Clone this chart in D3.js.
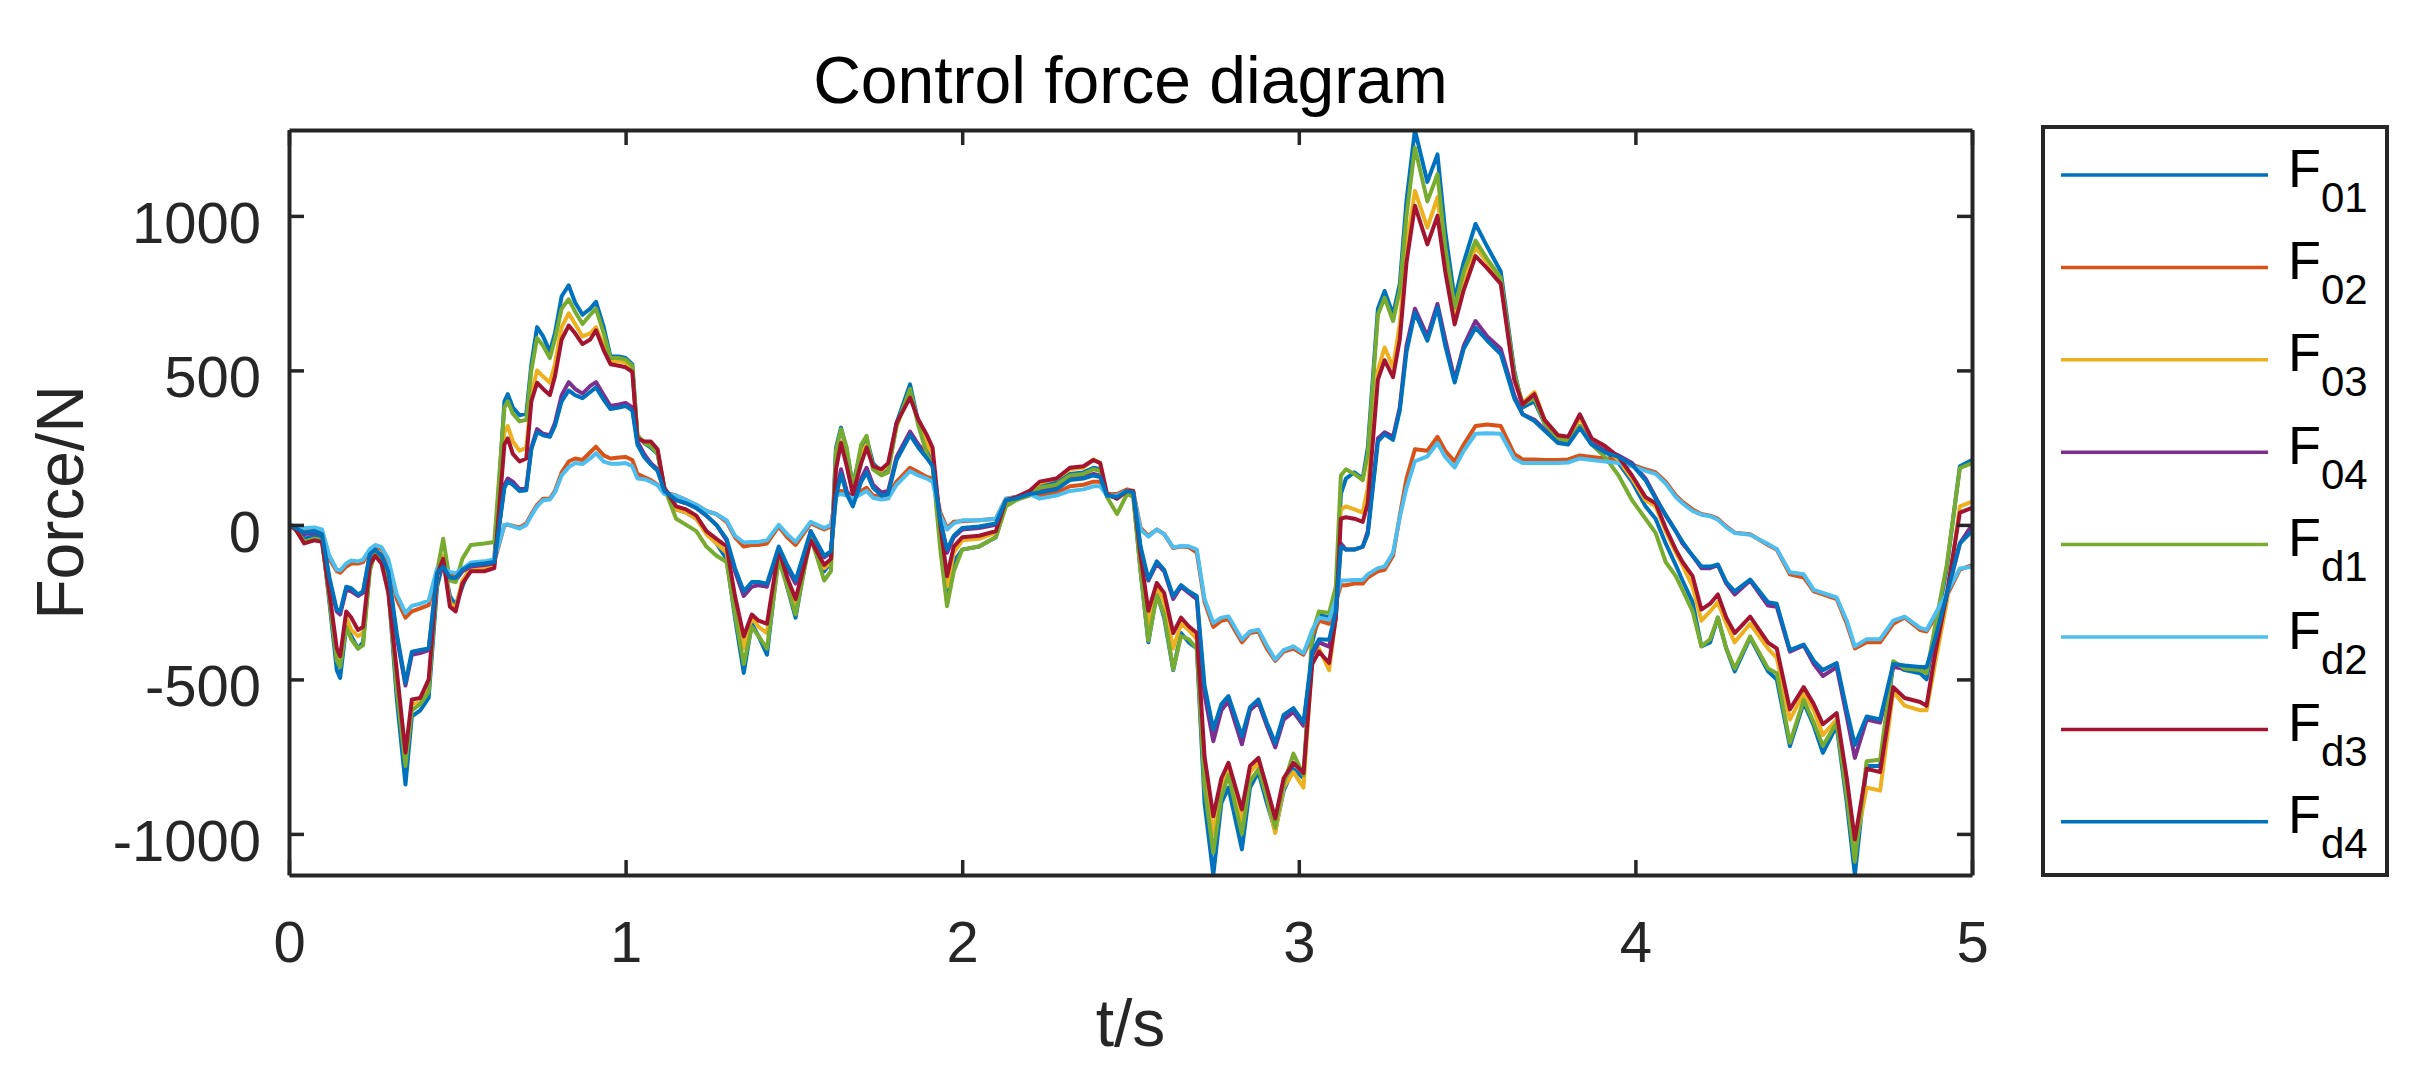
<!DOCTYPE html>
<html><head><meta charset="utf-8">
<script src="https://cdn.jsdelivr.net/npm/d3@7"></script>
<style>html,body{margin:0;padding:0;background:#fff;} svg{display:block;}</style>
</head><body>
<svg id="chart" width="2421" height="1076"></svg>
<script>
const time = [0,0.02,0.045,0.075,0.098,0.12,0.142,0.152,0.17,0.185,
0.205,0.22,0.24,0.256,0.275,0.295,0.32,0.346,0.365,0.39,
0.415,0.44,0.458,0.478,0.495,0.515,0.54,0.58,0.61,0.64,
0.65,0.665,0.685,0.705,0.72,0.737,0.755,0.775,0.79,0.81,
0.831,0.85,0.872,0.895,0.912,0.935,0.955,0.98,1.0,1.02,
1.035,1.055,1.075,1.095,1.115,1.15,1.18,1.21,1.24,1.27,
1.3,1.325,1.351,1.375,1.395,1.42,1.455,1.48,1.505,1.55,
1.59,1.61,1.625,1.64,1.657,1.675,1.7,1.716,1.735,1.76,
1.78,1.805,1.845,1.87,1.895,1.912,1.935,1.955,1.975,2.0,
2.05,2.1,2.13,2.16,2.2,2.23,2.28,2.32,2.36,2.39,
2.41,2.43,2.46,2.49,2.508,2.53,2.553,2.578,2.6,2.627,
2.65,2.673,2.697,2.72,2.746,2.77,2.791,2.831,2.855,2.88,
2.905,2.93,2.955,2.984,3.014,3.04,3.06,3.09,3.11,3.125,
3.14,3.165,3.19,3.205,3.235,3.255,3.28,3.3,3.32,3.345,
3.382,3.412,3.435,3.463,3.49,3.525,3.56,3.6,3.64,3.665,
3.7,3.73,3.77,3.8,3.835,3.87,3.91,3.95,3.99,4.03,
4.06,4.09,4.12,4.14,4.17,4.196,4.222,4.245,4.27,4.295,
4.341,4.394,4.42,4.459,4.5,4.53,4.557,4.598,4.628,4.652,
4.687,4.727,4.766,4.8,4.846,4.865,4.89,4.925,4.964,5.0];

const F01 = [0,-15,-45,-35,-40,-250,-470,-495,-330,-360,
-400,-380,-140,-80,-100,-200,-560,-840,-620,-600,
-560,-200,-120,-230,-260,-200,-130,-125,-110,400,
423,380,355,360,520,640,610,560,620,740,
775,720,680,700,722,640,545,545,540,520,
290,265,250,230,120,50,40,20,-20,-60,
-110,-300,-479,-320,-360,-420,-90,-200,-300,-20,
-150,-120,250,315,240,130,240,280,200,170,
180,330,455,330,240,200,-50,-250,-120,-80,
-70,-40,70,85,100,125,140,165,170,185,
180,95,90,110,100,-150,-380,-220,-300,-470,
-350,-380,-400,-900,-1133,-900,-850,-1050,-850,-800,
-900,-990,-860,-790,-820,-380,-290,-300,-250,100,
150,170,150,250,700,757,680,780,1050,1278,
1110,1199,950,730,850,974,900,820,500,380,
400,330,280,270,320,270,240,200,140,60,
20,-60,-130,-180,-250,-393,-380,-300,-400,-474,
-365,-474,-500,-716,-575,-650,-738,-650,-900,-1133,
-780,-780,-450,-470,-480,-500,-350,-140,190,210];

const F02 = [0,-5,-15,-12,-20,-110,-150,-155,-135,-125,
-125,-120,-85,-70,-78,-120,-240,-300,-280,-270,
-260,-150,-145,-160,-165,-150,-130,-125,-120,0,
0,-3,-8,5,35,65,85,85,110,170,
205,215,210,235,253,225,215,218,220,210,
165,155,145,130,105,95,80,65,45,35,
10,-40,-70,-65,-65,-60,-5,-40,-65,5,
-15,-5,100,110,105,90,110,120,95,90,
95,140,185,170,155,150,40,-10,10,12,
15,20,85,90,100,95,105,125,130,140,
140,100,100,115,110,-10,-35,-15,-30,-75,
-70,-72,-90,-250,-330,-310,-305,-380,-350,-345,
-400,-440,-410,-400,-420,-360,-310,-320,-250,-195,
-195,-190,-190,-170,-150,-145,-100,30,150,245,
240,285,240,205,260,320,325,320,230,212,
212,210,210,212,225,220,215,210,195,180,
170,140,95,75,50,35,30,20,-5,-25,
-30,-65,-80,-160,-170,-215,-225,-240,-320,-400,
-380,-380,-320,-300,-340,-345,-300,-230,-145,-130];

const F03 = [0,-15,-55,-45,-50,-230,-420,-440,-300,-340,
-360,-350,-140,-95,-120,-210,-500,-760,-580,-575,
-520,-170,-100,-250,-270,-180,-140,-140,-130,300,
320,270,240,250,420,500,480,460,520,640,
685,650,610,620,640,580,530,530,525,505,
285,270,265,240,120,50,40,20,-30,-60,
-90,-260,-400,-300,-330,-350,-90,-180,-260,-40,
-140,-120,200,270,200,110,230,260,190,175,
190,320,430,330,260,230,-20,-200,-90,-50,
-45,-25,75,85,105,135,150,180,185,212,
200,100,85,110,110,-120,-320,-200,-250,-400,
-320,-340,-370,-800,-1000,-850,-790,-960,-800,-770,
-880,-997,-850,-800,-850,-420,-400,-470,-300,50,
60,50,40,120,500,574,510,650,900,1081,
962,1060,850,670,780,898,850,790,480,395,
430,340,290,280,345,275,250,210,150,80,
60,-20,-90,-130,-200,-310,-280,-250,-320,-380,
-320,-400,-430,-630,-545,-600,-680,-630,-850,-1050,
-850,-860,-540,-585,-600,-600,-450,-250,60,75];

const F04 = [0,-10,-30,-25,-30,-180,-280,-290,-210,-215,
-230,-220,-100,-85,-105,-160,-360,-520,-420,-415,
-405,-160,-140,-175,-180,-150,-135,-130,-125,130,
150,140,115,120,250,310,295,290,330,420,
462,440,425,450,462,420,385,390,395,380,
270,230,200,180,115,80,70,55,30,0,
-50,-150,-230,-200,-195,-200,-75,-140,-190,-25,
-105,-90,100,180,110,70,150,185,130,105,
110,220,302,260,227,200,20,-90,-40,-15,
-10,0,80,85,100,110,120,150,155,165,
160,95,90,110,105,-80,-180,-125,-150,-240,
-200,-220,-240,-550,-700,-600,-570,-710,-600,-575,
-650,-720,-630,-605,-650,-420,-380,-394,-300,-60,
-80,-80,-70,-20,280,300,285,380,580,700,
610,715,600,470,580,660,610,570,420,358,
340,310,270,265,320,265,240,225,200,150,
90,30,-20,-60,-100,-140,-140,-130,-190,-225,
-180,-261,-265,-410,-390,-450,-489,-460,-620,-754,
-630,-640,-460,-465,-470,-470,-380,-230,-60,0];

const Fd1 = [0,-15,-55,-45,-50,-240,-440,-460,-330,-370,
-400,-390,-150,-90,-110,-200,-530,-780,-600,-580,
-540,-150,-45,-180,-185,-110,-65,-60,-55,380,
400,360,335,340,500,605,580,540,600,700,
730,690,650,680,700,620,540,540,535,515,
290,265,255,230,120,20,0,-20,-70,-100,
-120,-290,-450,-330,-360,-400,-110,-200,-290,-40,
-180,-150,240,310,250,120,260,288,180,160,
170,320,440,320,230,190,-80,-263,-150,-80,
-70,-40,60,80,95,120,130,160,165,180,
175,90,35,100,90,-150,-375,-230,-290,-468,
-360,-370,-400,-850,-1061,-880,-810,-1000,-830,-790,
-880,-980,-840,-740,-810,-350,-280,-285,-200,160,
180,165,145,230,680,735,660,760,1000,1221,
1047,1135,900,703,820,920,860,800,490,390,
410,330,280,270,320,260,220,160,80,20,
-26,-120,-166,-210,-280,-393,-370,-300,-400,-465,
-361,-465,-480,-705,-566,-640,-715,-640,-880,-1090,
-765,-760,-441,-465,-470,-480,-330,-130,184,200];

const Fd2 = [0,-5,-10,-8,-15,-100,-145,-147,-125,-115,
-118,-112,-78,-65,-72,-110,-225,-285,-262,-255,
-245,-140,-138,-152,-156,-142,-122,-118,-112,0,
2,-5,-12,0,30,60,80,82,105,160,
187,200,197,215,232,205,198,198,200,190,
150,148,140,128,100,95,80,65,45,35,
15,-35,-57,-55,-55,-50,0,-30,-55,10,
-10,0,95,100,95,85,100,110,88,82,
85,130,174,160,150,140,30,-15,5,15,
15,20,85,90,100,85,95,110,115,125,
125,95,95,110,105,-15,-38,-15,-30,-73,
-68,-69,-80,-240,-317,-300,-296,-371,-345,-339,
-390,-436,-405,-393,-415,-340,-300,-307,-240,-180,
-180,-178,-178,-160,-140,-135,-90,25,120,206,
222,265,220,186,240,295,297,295,215,200,
200,200,200,202,215,210,205,200,190,175,
165,134,90,70,45,33,28,17,-8,-26,
-32,-62,-78,-153,-160,-210,-220,-235,-310,-393,
-370,-370,-310,-297,-333,-340,-290,-220,-141,-135];

const Fd3 = [0,-15,-60,-50,-55,-220,-400,-425,-280,-300,
-340,-330,-130,-100,-125,-220,-470,-737,-565,-560,
-500,-160,-110,-265,-280,-190,-150,-150,-140,260,
280,230,205,215,400,460,440,420,480,600,
645,620,585,600,630,565,520,515,510,495,
280,270,270,245,120,60,50,30,-20,-45,
-70,-230,-361,-290,-310,-320,-80,-170,-240,-50,
-130,-110,180,265,190,100,200,250,190,180,
200,330,412,340,291,250,0,-166,-70,-40,
-35,-20,80,90,110,140,150,185,190,210,
200,100,85,110,110,-100,-278,-188,-220,-350,
-300,-328,-350,-750,-943,-820,-770,-921,-780,-754,
-850,-950,-820,-770,-803,-450,-410,-447,-300,20,
25,20,10,70,470,533,478,600,850,1033,
908,1000,820,649,760,870,830,780,470,390,
423,340,290,285,358,280,255,220,160,90,
70,-10,-80,-120,-166,-274,-255,-225,-300,-350,
-297,-381,-400,-597,-525,-580,-645,-609,-820,-1018,
-789,-800,-525,-560,-573,-585,-420,-225,40,55];

const Fd4 = [0,-10,-25,-20,-30,-170,-275,-280,-200,-205,
-225,-215,-95,-80,-100,-150,-350,-512,-410,-405,
-400,-155,-135,-170,-172,-145,-130,-125,-120,120,
140,130,110,112,245,300,290,285,320,400,
435,420,410,430,445,405,375,380,385,370,
260,220,195,175,110,80,70,55,30,0,
-45,-140,-215,-185,-185,-190,-70,-130,-180,-20,
-100,-85,90,165,100,60,140,170,120,95,
100,210,291,250,216,190,10,-80,-35,-10,
-5,5,80,85,100,105,115,145,150,160,
155,95,90,110,105,-70,-176,-118,-145,-231,
-195,-215,-230,-520,-662,-580,-554,-684,-590,-565,
-640,-706,-615,-593,-640,-410,-370,-372,-280,-70,
-80,-80,-70,-30,270,293,275,370,560,687,
596,704,580,461,570,638,596,553,410,358,
336,305,265,260,314,260,235,220,195,145,
85,33,-20,-55,-100,-134,-135,-128,-185,-215,
-177,-250,-255,-405,-387,-440,-470,-447,-600,-712,
-620,-630,-450,-455,-460,-460,-370,-225,-60,-20];

const seriesValues = [F01, F02, F03, F04, Fd1, Fd2, Fd3, Fd4];
const legendSubs = ["01","02","03","04","d1","d2","d3","d4"];
const colors = ["#0072BD","#D95319","#EDB120","#7E2F8E","#77AC30","#4DBEEE","#A2142F","#0072BD"];
const xTicks = [0,1,2,3,4,5];
const yTicks = [-1000,-500,0,500,1000];
const titleText = "Control force diagram";
const xLabelText = "t/s";
const yLabelText = "Force/N";

const FONT = "'Liberation Sans', Arial, Helvetica, sans-serif";
const AX = "#262626";
const M = {left: 289, right: 1972, top: 130, bottom: 875};
const svg = d3.select("#chart");
svg.append("rect").attr("width", 2421).attr("height", 1076).attr("fill", "#fff");

const x = d3.scaleLinear().domain([0, 5]).range([M.left, M.right]);
const y = d3.scaleLinear().domain([-1133, 1278]).range([M.bottom, M.top]);

svg.append("defs").append("clipPath").attr("id", "clip")
  .append("rect").attr("x", M.left).attr("y", M.top)
  .attr("width", M.right - M.left).attr("height", M.bottom - M.top);

// lines
const line = d3.line().x((d, i) => x(time[i])).y(d => y(d));
const gLines = svg.append("g").attr("clip-path", "url(#clip)");
seriesValues.forEach((vals, k) => {
  gLines.append("path").datum(vals)
    .attr("d", line)
    .attr("fill", "none")
    .attr("stroke", colors[k])
    .attr("stroke-width", 4)
    .attr("stroke-linejoin", "round");
});

function styleAxis(g, showText) {
  g.select(".domain").attr("stroke", AX).attr("stroke-width", 4);
  g.selectAll(".tick line").attr("stroke", AX).attr("stroke-width", 3.5);
  g.selectAll(".tick text").attr("fill", AX).attr("font-family", FONT).attr("font-size", 58);
  if (!showText) g.selectAll(".tick text").remove();
}

const fmt = d => String(d);
const TL = 15;
const gx = svg.append("g").attr("transform", `translate(0,${M.bottom})`)
  .call(d3.axisBottom(x).tickValues(xTicks).tickFormat(fmt).tickSizeInner(-TL).tickSizeOuter(0).tickPadding(46));
styleAxis(gx, true);
const gxt = svg.append("g").attr("transform", `translate(0,${M.top})`)
  .call(d3.axisTop(x).tickValues(xTicks).tickSizeInner(-TL).tickSizeOuter(0));
styleAxis(gxt, false);
const gy = svg.append("g").attr("transform", `translate(${M.left},0)`)
  .call(d3.axisLeft(y).tickValues(yTicks).tickFormat(fmt).tickSizeInner(-TL).tickSizeOuter(0).tickPadding(28));
styleAxis(gy, true);
gy.selectAll(".tick text").attr("dy", "0.45em");
const gyr = svg.append("g").attr("transform", `translate(${M.right},0)`)
  .call(d3.axisRight(y).tickValues(yTicks).tickSizeInner(-TL).tickSizeOuter(0));
styleAxis(gyr, false);

// title & labels
svg.append("text").attr("x", (M.left + M.right) / 2).attr("y", 103)
  .attr("text-anchor", "middle").attr("font-family", FONT).attr("font-size", 66)
  .attr("fill", "#000").text(titleText);
svg.append("text").attr("x", (M.left + M.right) / 2).attr("y", 1046)
  .attr("text-anchor", "middle").attr("font-family", FONT).attr("font-size", 66)
  .attr("fill", AX).text(xLabelText);
svg.append("text").attr("transform", `translate(83,${(M.top + M.bottom) / 2}) rotate(-90)`)
  .attr("text-anchor", "middle").attr("font-family", FONT).attr("font-size", 66)
  .attr("fill", AX).text(yLabelText);

// legend
const L = {x: 2043, y: 127, w: 344, h: 748};
svg.append("rect").attr("x", L.x).attr("y", L.y).attr("width", L.w).attr("height", L.h)
  .attr("fill", "#fff").attr("stroke", AX).attr("stroke-width", 4);
const step = 92.4;
legendSubs.forEach((sub, k) => {
  const ly = 175 + k * step;
  svg.append("line").attr("x1", 2061).attr("x2", 2268).attr("y1", ly).attr("y2", ly)
    .attr("stroke", colors[k]).attr("stroke-width", 3.5);
  const t = svg.append("text").attr("x", 2288).attr("y", ly + 11.5)
    .attr("font-family", FONT).attr("font-size", 54).attr("fill", "#000");
  t.append("tspan").text("F");
  t.append("tspan").attr("font-size", 42).attr("dy", 25).text(sub);
});
</script>
</body></html>
